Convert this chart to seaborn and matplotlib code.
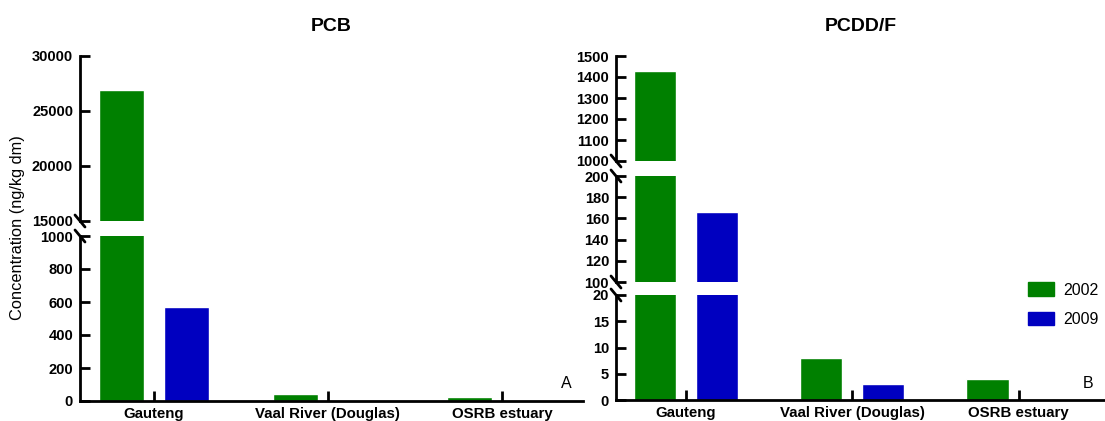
import pandas as pd
import matplotlib
matplotlib.use('Agg')
import matplotlib.pyplot as plt
import matplotlib.patches as mpatches
import seaborn as sns

sites = ['Gauteng', 'Vaal River (Douglas)', 'OSRB estuary']
years = ['2002', '2009']
pcb_2002 = [26900, 45, 25]
pcb_2009 = [570, 0, 0]
pcdd_2002 = [1430, 8, 4]
pcdd_2009 = [166, 3, 0]
colors = {'2002': '#008000', '2009': '#0000C0'}

sns.set_style('ticks')
plt.rcParams['font.family'] = ['Liberation Sans', 'DejaVu Sans']
plt.rcParams.update({'text.color': 'black', 'axes.labelcolor': 'black',
                     'xtick.color': 'black', 'ytick.color': 'black',
                     'axes.edgecolor': 'black'})

W, H = 1105, 421
fig = plt.figure(figsize=(W / 100, H / 100), dpi=100)


def frame(a, b):
    return pd.DataFrame({'site': sites * 2,
                         'year': ['2002'] * 3 + ['2009'] * 3,
                         'value': a + b})


def px_axes(x0, x1, ytop, ybot):
    return fig.add_axes([x0 / W, (H - ybot) / H, (x1 - x0) / W, (ybot - ytop) / H])


def draw_panel(df, x0, x1, segs, xlim, title, letter):
    # segs: list of (ytop_px, ybot_px, ymin, ymax, ticks) from top to bottom
    axes = []
    for i, (yt, yb, lo, hi, ticks) in enumerate(segs):
        ax = px_axes(x0, x1, yt, yb)
        sns.barplot(data=df, x='site', y='value', hue='year', order=sites,
                    hue_order=years, palette=colors, width=0.747, gap=0.32,
                    saturation=1, ax=ax, legend=False, errorbar=None)
        ax.set_ylim(lo, hi)
        ax.set_xlim(*xlim)
        ax.set_yticks(ticks)
        ax.set_yticklabels([str(t) for t in ticks], fontweight='bold', fontsize=10.5)
        ax.set_xlabel('')
        ax.set_ylabel('')
        for s in ['top', 'right']:
            ax.spines[s].set_visible(False)
        ax.spines['left'].set_linewidth(2)
        ax.tick_params(axis='y', direction='in', length=7, width=2, pad=5, left=True)
        last = i == len(segs) - 1
        if last:
            ax.spines['bottom'].set_linewidth(2)
            ax.set_xticks(range(len(sites)))
            ax.set_xticklabels(sites, fontweight='bold', fontsize=10.8)
            ax.tick_params(axis='x', direction='in', length=7, width=2, pad=4, bottom=True)
        else:
            ax.spines['bottom'].set_visible(False)
            ax.set_xticks([])
        # break marks
        kw = dict(transform=ax.transAxes, color='black', lw=2, clip_on=False)
        hpx = yb - yt
        wpx = x1 - x0
        if i > 0:
            ax.plot([-5 / wpx, 5 / wpx], [1 + 6 / hpx, 1 - 6 / hpx], **kw)
        if not last:
            ax.plot([-5 / wpx, 5 / wpx], [6 / hpx, -6 / hpx], **kw)
        axes.append(ax)
    axes[0].set_title(title, fontweight='bold', fontsize=14, pad=18)
    fig.text((x1 - 17) / W, (H - 383) / H, letter, fontsize=11.5, ha='center', va='center')
    return axes


pcb = frame(pcb_2002, pcb_2009)
pcdd = frame(pcdd_2002, pcdd_2009)

left = draw_panel(pcb, 80, 583,
                  [(56, 221, 15000, 30000, [15000, 20000, 25000, 30000]),
                   (236, 401, 0, 1000, [0, 200, 400, 600, 800, 1000])],
                  (-0.425, 2.466), 'PCB', 'A')
right = draw_panel(pcdd, 616, 1105,
                   [(56, 161, 1000, 1500, [1000, 1100, 1200, 1300, 1400, 1500]),
                    (176, 282, 100, 200, [100, 120, 140, 160, 180, 200]),
                    (295, 400, 0, 20, [0, 5, 10, 15, 20])],
                   (-0.42, 2.52), 'PCDD/F', 'B')

fig.text(18 / W, (H - 228) / H, 'Concentration (ng/kg dm)', rotation=90,
         ha='center', va='center', fontsize=11.8)

handles = [mpatches.Patch(color=colors[y], label=y) for y in years]
fig.legend(handles=handles, loc='upper left', bbox_to_anchor=(1014 / W, (H - 268) / H),
           frameon=False, fontsize=11.5, handlelength=1.6, handleheight=0.9,
           labelspacing=0.9, handletextpad=0.6)

plt.savefig('out.png', dpi=100)
